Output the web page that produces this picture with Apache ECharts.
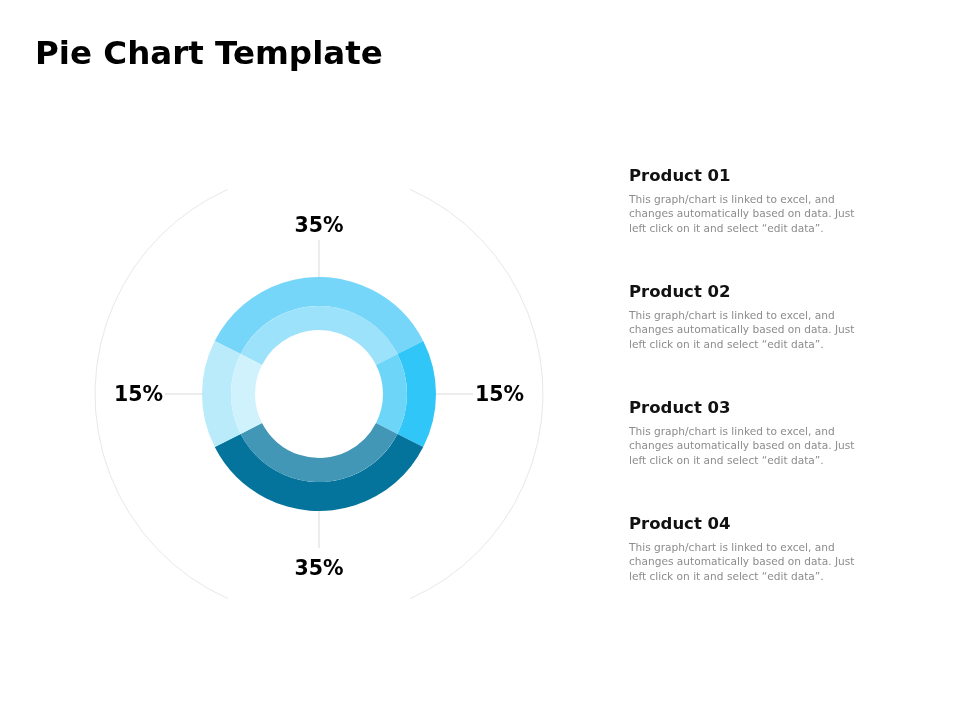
<!DOCTYPE html>
<html><head><meta charset="utf-8">
<script src="https://cdn.jsdelivr.net/npm/echarts@6/dist/echarts.min.js"></script>
<style>html,body{margin:0;padding:0;background:#fff}#c{width:960px;height:720px}</style>
</head><body><div id="c"></div>
<script>
const titleText = 'Pie Chart Template';
const products = ['Product 01', 'Product 02', 'Product 03', 'Product 04'];
const shares = [35, 15, 35, 15];
const outerColors = ['#76D6F9', '#30C6F8', '#04749C', '#B9EBFB'];
const innerColors = ['#9DE2FB', '#6DD6F8', '#4397B6', '#CFF2FC'];
const descLines = [
  'This graph/chart is linked to excel, and',
  'changes automatically based on data. Just',
  'left click on it and select \u201cedit data\u201d.'
];

const center = [319, 394];
const font = '"DejaVu Sans", Verdana, sans-serif';

const outerData = products.map((n, i) => ({ name: n, value: shares[i], itemStyle: { color: outerColors[i] } }));
const innerData = products.map((n, i) => ({ name: n, value: shares[i], itemStyle: { color: innerColors[i] } }));

function labelLayout(p) {
  const pts = p.labelLinePoints;
  if (!pts || pts.length < 2) return {};
  const a = pts[0], b = pts[1];
  const dx = b[0] - a[0], dy = b[1] - a[1];
  const line = [[a[0], a[1]], [b[0], b[1]]];
  if (Math.abs(dy) > Math.abs(dx)) {
    return { x: b[0], y: b[1] + (dy < 0 ? -13 : 22), align: 'center', verticalAlign: 'middle', labelLinePoints: line };
  }
  return { x: b[0] + (dx > 0 ? 2 : -2), y: b[1] + 2, align: dx > 0 ? 'left' : 'right', verticalAlign: 'middle', labelLinePoints: line };
}

const graphics = [
  { type: 'arc', silent: true, shape: { cx: center[0], cy: center[1], r: 224, startAngle: -66 * Math.PI / 180, endAngle: 66 * Math.PI / 180, clockwise: true }, style: { stroke: '#e8e8e8', lineWidth: 1, fill: null } },
  { type: 'arc', silent: true, shape: { cx: center[0], cy: center[1], r: 224, startAngle: 114 * Math.PI / 180, endAngle: 246 * Math.PI / 180, clockwise: true }, style: { stroke: '#e8e8e8', lineWidth: 1, fill: null } },
  { type: 'text', left: 35, top: 39, style: { text: titleText, font: 'bold 32.5px ' + font, fill: '#000' } }
];
products.forEach((n, i) => {
  const y0 = 177 + i * 116;
  graphics.push({ type: 'text', x: 629, y: y0, style: { text: n, font: 'bold 16.5px ' + font, fill: '#111', verticalAlign: 'middle' } });
  graphics.push({ type: 'text', x: 629, y: y0 + 15.5, style: { text: descLines.join('\n'), font: '10.6px ' + font, lineHeight: 14.5, fill: '#8c8c8c', verticalAlign: 'top' } });
});

const chart = echarts.init(document.getElementById('c'), null, { renderer: 'canvas' });
chart.setOption({
  animation: false,
  backgroundColor: '#fff',
  graphic: graphics,
  series: [
    {
      type: 'pie', center: center, radius: [88, 117], startAngle: 153, clockwise: true,
      avoidLabelOverlap: false, silent: true,
      itemStyle: { borderWidth: 0 },
      emphasis: { disabled: true },
      label: { show: true, position: 'outside', formatter: '{d}%', fontFamily: font, fontWeight: 'bold', fontSize: 20.5, color: '#000', distanceToLabelLine: 2 },
      labelLine: { show: true, length: 37, length2: 0, smooth: false, lineStyle: { color: '#d9d9d9', width: 1 } },
      labelLayout: labelLayout,
      data: outerData
    },
    {
      type: 'pie', center: center, radius: [64, 88], startAngle: 153, clockwise: true,
      silent: true,
      itemStyle: { borderWidth: 0 },
      emphasis: { disabled: true },
      label: { show: false }, labelLine: { show: false },
      data: innerData
    }
  ]
});
</script>
</body></html>
